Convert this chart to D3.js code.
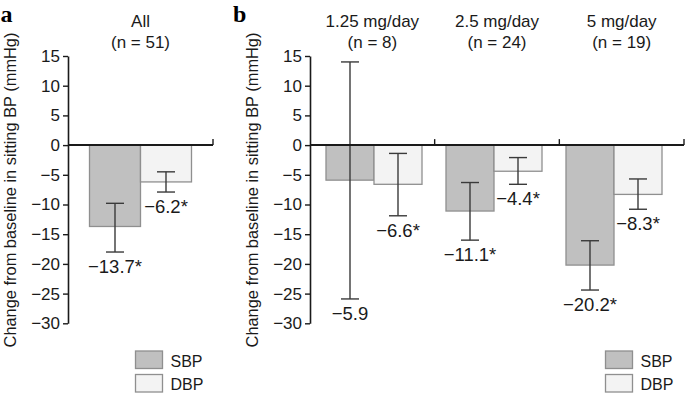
<!DOCTYPE html>
<html>
<head>
<meta charset="utf-8">
<script src="https://cdn.jsdelivr.net/npm/d3@7"></script>
<style>
  html, body { margin: 0; padding: 0; background: #fff; }
  svg { display: block; font-family: "Liberation Sans", Arial, sans-serif; }
</style>
</head>
<body>
<svg id="chart" width="685" height="393"></svg>
<script>
// ---------- data ----------
const seriesNames = ["SBP", "DBP"];
const yTicks = [15, 10, 5, 0, -5, -10, -15, -20, -25, -30];

// Panel a
const groupsA = ["All"];
const groupTitlesA = [["All", "(n = 51)"]];
const sbpA = [-13.7];
const dbpA = [-6.2];
const sbpErrA = [[-9.8, -18.0]];
const dbpErrA = [[-4.5, -7.9]];
const sbpLabelA = ["\u221213.7*"];
const dbpLabelA = ["\u22126.2*"];

// Panel b
const groupsB = ["1.25", "2.5", "5"];
const groupTitlesB = [["1.25 mg/day", "(n = 8)"], ["2.5 mg/day", "(n = 24)"], ["5 mg/day", "(n = 19)"]];
const sbpB = [-5.9, -11.1, -20.2];
const dbpB = [-6.6, -4.4, -8.3];
const sbpErrB = [[14.0, -25.9], [-6.3, -16.0], [-16.1, -24.4]];
const dbpErrB = [[-1.4, -11.9], [-2.1, -6.6], [-5.7, -10.8]];
const sbpLabelB = ["\u22125.9", "\u221211.1*", "\u221220.2*"];
const dbpLabelB = ["\u22126.6*", "\u22124.4*", "\u22128.3*"];

const yTitle = "Change from baseline in sitting BP (mmHg)";

// ---------- style ----------
const fillColor = { SBP: "#c0c0c0", DBP: "#f3f3f3" };
const barStroke = "#8f8f8f";
const errColor = "#3a3a3a";
const textColor = "#1a1a1a";
const axisColor = "#1a1a1a";

const svg = d3.select("#chart");

const y = d3.scaleLinear().domain([-30, 15]).range([323.3, 56]);

function buildRows(groups, sbp, dbp, sbpErr, dbpErr, sbpLab, dbpLab) {
  const rows = [];
  groups.forEach((g, i) => {
    rows.push({ group: g, series: "SBP", value: sbp[i], err: sbpErr[i], label: sbpLab[i] });
    rows.push({ group: g, series: "DBP", value: dbp[i], err: dbpErr[i], label: dbpLab[i] });
  });
  return rows;
}

function drawPanel(opts) {
  const { groups, titles, rows, axisX, groupScale, barScale, inner, letter, letterX, yTitleX, legendX } = opts;
  const g = svg.append("g");

  // bars
  g.selectAll("rect.bar").data(rows).join("rect")
    .attr("class", "bar")
    .attr("x", d => barScale(d.group) + inner(d.series))
    .attr("width", inner.bandwidth())
    .attr("y", d => y(Math.max(0, d.value)))
    .attr("height", d => Math.abs(y(d.value) - y(0)))
    .attr("fill", d => fillColor[d.series])
    .attr("stroke", barStroke)
    .attr("stroke-width", 1.3);

  // error bars
  const cap = 9;
  const eg = g.selectAll("g.err").data(rows).join("g").attr("class", "err")
    .attr("transform", d => `translate(${barScale(d.group) + inner(d.series) + inner.bandwidth() / 2},0)`);
  eg.append("line").attr("x1", 0).attr("x2", 0)
    .attr("y1", d => y(d.err[0])).attr("y2", d => y(d.err[1]))
    .attr("stroke", errColor).attr("stroke-width", 1.4);
  eg.append("line").attr("x1", -cap).attr("x2", cap)
    .attr("y1", d => y(d.err[0])).attr("y2", d => y(d.err[0]))
    .attr("stroke", errColor).attr("stroke-width", 1.4);
  eg.append("line").attr("x1", -cap).attr("x2", cap)
    .attr("y1", d => y(d.err[1])).attr("y2", d => y(d.err[1]))
    .attr("stroke", errColor).attr("stroke-width", 1.4);
  eg.append("text")
    .attr("x", 0).attr("y", d => y(d.err[1]) + 21)
    .attr("text-anchor", "middle")
    .attr("font-size", 18.5)
    .attr("fill", textColor)
    .text(d => d.label);

  // y axis
  const ya = g.append("g").attr("transform", `translate(${axisX},0)`)
    .call(d3.axisLeft(y).tickValues(yTicks).tickSize(5).tickSizeOuter(0).tickPadding(3)
      .tickFormat(d => (d < 0 ? "\u2212" : "") + Math.abs(d)));
  ya.select(".domain").attr("stroke", axisColor).attr("stroke-width", 1.6);
  ya.selectAll(".tick line").attr("stroke", axisColor).attr("stroke-width", 1.4);
  ya.selectAll(".tick text").attr("font-size", 17).attr("fill", textColor)
    .attr("font-family", "Liberation Sans, Arial, sans-serif");

  // zero line with group separators
  const [r0, r1] = groupScale.range();
  g.append("line").attr("x1", r0).attr("x2", r1)
    .attr("y1", y(0)).attr("y2", y(0))
    .attr("stroke", axisColor).attr("stroke-width", 2);
  g.selectAll("line.sep").data(groups).join("line").attr("class", "sep")
    .attr("x1", d => groupScale(d) + groupScale.bandwidth())
    .attr("x2", d => groupScale(d) + groupScale.bandwidth())
    .attr("y1", y(0)).attr("y2", y(0) - 6)
    .attr("stroke", axisColor).attr("stroke-width", 1.4);

  // titles
  const tg = g.selectAll("g.title").data(groups).join("g").attr("class", "title")
    .attr("transform", d => `translate(${groupScale(d) + groupScale.bandwidth() / 2},0)`);
  tg.append("text").attr("y", 26.5).attr("text-anchor", "middle")
    .attr("font-size", 17).attr("fill", textColor)
    .text((d, i) => titles[i][0]);
  tg.append("text").attr("y", 48).attr("text-anchor", "middle")
    .attr("font-size", 17).attr("fill", textColor)
    .text((d, i) => titles[i][1]);

  // y title
  g.append("text")
    .attr("transform", `translate(${yTitleX},190) rotate(-90)`)
    .attr("text-anchor", "middle")
    .attr("font-size", 16.4).attr("fill", textColor)
    .text(yTitle);

  // panel letter
  g.append("text").attr("x", letterX).attr("y", 21.5)
    .attr("font-family", "Liberation Serif, Times New Roman, serif")
    .attr("font-weight", "bold").attr("font-size", 24).attr("fill", "#000")
    .text(letter);

  // legend
  const lg = g.selectAll("g.leg").data(seriesNames).join("g").attr("class", "leg")
    .attr("transform", (d, i) => `translate(${legendX},${351 + i * 23.5})`);
  lg.append("rect").attr("width", 27).attr("height", 17.5)
    .attr("fill", d => fillColor[d]).attr("stroke", barStroke).attr("stroke-width", 1.3);
  lg.append("text").attr("x", 35).attr("y", 15.5)
    .attr("font-size", 16).attr("fill", textColor).text(d => d);
}

// Panel a scales
const groupA = d3.scaleBand().domain(groupsA).range([68, 213]).padding(0);
const barA = d3.scaleBand().domain(groupsA).range([68, 213]).padding(0);
const innerA = d3.scaleBand().domain(seriesNames).range([0, barA.bandwidth()])
  .paddingInner(0).paddingOuter(0.4216);

drawPanel({
  groups: groupsA, titles: groupTitlesA,
  rows: buildRows(groupsA, sbpA, dbpA, sbpErrA, dbpErrA, sbpLabelA, dbpLabelA),
  axisX: 68, groupScale: groupA, barScale: barA, inner: innerA,
  letter: "a", letterX: 0.5, yTitleX: 16, legendX: 135.5
});

// Panel b scales
const groupB = d3.scaleBand().domain(groupsB).range([310, 684]).padding(0);
const barB = d3.scaleBand().domain(groupsB).range([314, 674]).paddingInner(0.2).paddingOuter(0.1);
const innerB = d3.scaleBand().domain(seriesNames).range([0, barB.bandwidth()]).padding(0);

drawPanel({
  groups: groupsB, titles: groupTitlesB,
  rows: buildRows(groupsB, sbpB, dbpB, sbpErrB, dbpErrB, sbpLabelB, dbpLabelB),
  axisX: 310, groupScale: groupB, barScale: barB, inner: innerB,
  letter: "b", letterX: 233, yTitleX: 258, legendX: 605.5
});
</script>
</body>
</html>
